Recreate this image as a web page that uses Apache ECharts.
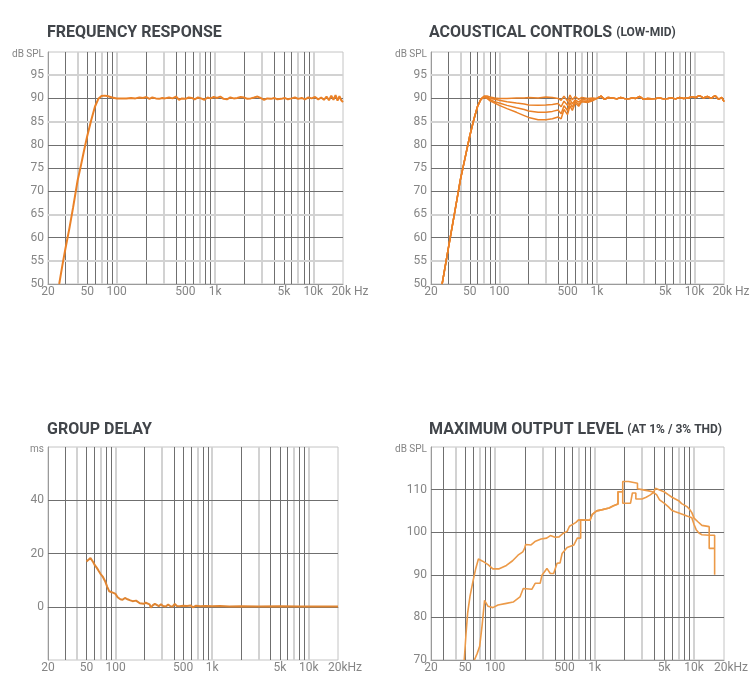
<!DOCTYPE html>
<html>
<head>
<meta charset="utf-8">
<script src="https://cdn.jsdelivr.net/npm/echarts@6/dist/echarts.min.js"></script>
<style>
  html, body { margin: 0; padding: 0; background: #fff; }
  #chart { width: 753px; height: 700px; }
</style>
</head>
<body>
<div id="chart"></div>
<script>
// grid lines (Hz) and which of them are drawn pale
const vGrid = [30, 40, 50, 60, 70, 80, 90, 100, 200, 300, 400, 500, 600, 700, 800, 900,
  1000, 2000, 3000, 4000, 5000, 6000, 7000, 8000, 9000, 10000]
const vLight = [40, 70, 100, 300, 700, 1000, 3000, 7000, 10000]
const xLabels = [20, 50, 100, 500, 1000, 5000, 10000, 20000]

// dB SPL grid for the two upper charts
const splGrid = [55, 60, 65, 70, 75, 80, 85, 90, 95]
const splLight = [55, 65, 85, 95]
const delayGrid = [0, 20, 40]
const molGrid = [80, 90, 100, 110]

// frequency response [Hz, dB]
const respCurve = [[26, 50], [28, 54], [30, 57.5], [33, 62], [36, 66.5], [40, 72.3], [43, 75.3], [46, 78.3],
  [50, 81.8], [55, 85.3], [60, 88.2], [65, 89.9], [70, 90.5], [75, 90.6], [80, 90.5], [90, 90.2], [100, 90],
  [110, 90], [125, 90], [140, 90.1], [155, 90], [170, 90.2], [185, 90.1], [200, 90.3], [215, 89.9], [230, 90.2],
  [250, 90], [270, 89.9], [290, 90.1], [310, 90], [340, 90.2], [370, 90], [400, 90.4], [430, 89.7], [460, 90],
  [500, 89.9], [540, 90.2], [580, 90.1], [620, 89.8], [670, 90.2], [720, 90], [780, 89.7], [840, 90.2], [900, 90],
  [970, 90.3], [1050, 90.1], [1130, 90.4], [1220, 89.9], [1320, 89.8], [1430, 90.2], [1550, 90], [1680, 90.1],
  [1820, 90.3], [1970, 90.2], [2130, 89.9], [2300, 90], [2500, 90.2], [2700, 90.4], [2900, 90.1], [3150, 89.7],
  [3400, 90], [3700, 89.9], [4000, 90.1], [4300, 89.8], [4700, 89.9], [5100, 90.1], [5500, 89.8], [6000, 90],
  [6500, 90.2], [7000, 89.9], [7600, 90.1], [8200, 89.8], [8900, 90.2], [9600, 90], [10400, 90.3], [11200, 89.8],
  [12000, 90.2], [12800, 89.7], [13600, 90.4], [14400, 89.6], [15200, 90.6], [16000, 89.7], [16800, 90.7],
  [17600, 89.5], [18400, 90.5], [19200, 89.6], [20000, 89.2]]

// acoustical controls: 4 settings share the low part frequencies and the top end
const ctrlFreq = [26, 30, 35, 40, 45, 50, 55, 60, 65, 70, 75, 80, 90, 100, 120, 150, 180, 200, 250, 300,
  350, 400, 430, 460, 500, 530, 560, 600, 650, 700, 800, 900]
const ctrlFlat = [50, 57.5, 65.5, 72.5, 77.5, 82, 85.5, 88.3, 89.9, 90.5, 90.5, 90.3, 90.1, 90, 90, 90.1, 90.1, 90.2, 90.1, 90.3,
  90.2, 90, 89.6, 90.5, 89.4, 90.7, 89.7, 90.4, 89.8, 90.2, 90, 90.1]
const ctrlCut1 = [50, 57.5, 65.5, 72.5, 77.5, 82, 85.5, 88.3, 89.9, 90.4, 90.3, 90, 89.8, 89.6, 89.3, 89, 88.8, 88.6, 88.5, 88.6,
  88.7, 88.9, 88.2, 89.4, 88.5, 89.8, 88.8, 89.7, 89.2, 89.8, 89.6, 89.9]
const ctrlCut2 = [50, 57.5, 65.5, 72.5, 77.5, 82, 85.5, 88.3, 89.8, 90.3, 90.1, 89.7, 89.3, 89, 88.5, 88, 87.6, 87.3, 87, 87,
  87.2, 87.5, 86.7, 88.4, 87.4, 89.1, 88.1, 89.4, 88.7, 89.5, 89.3, 89.7]
const ctrlCut3 = [50, 57.5, 65.5, 72.5, 77.5, 82, 85.5, 88.3, 89.8, 90.2, 90, 89.5, 89, 88.5, 87.8, 87, 86.3, 85.9, 85.4, 85.4,
  85.6, 86, 85.6, 87.6, 86.5, 88.4, 87.4, 89, 88.3, 89.3, 89.1, 89.5]
const ctrlTailFreq = [1000, 1100, 1200, 1300, 1450, 1600, 1750, 1900, 2100, 2300, 2500, 2750, 3000, 3300, 3600, 4000,
  4400, 4800, 5300, 5800, 6400, 7000, 7700, 8500, 9300, 10200, 11200, 12300, 13500, 14800, 16200, 17600, 19000, 20000]
const ctrlTailDb = [90, 90.5, 89.8, 90.2, 90.1, 89.9, 90.2, 90, 89.9, 90.1, 90, 90.4, 89.8, 90, 89.9, 90, 90.1, 89.9,
  90, 90.1, 89.9, 90.2, 90, 90.1, 90.3, 90.2, 90.6, 90.1, 90.4, 90, 90.6, 89.8, 90.2, 89.3]

// group delay [Hz, ms]
const delayCurve = [[50, 17], [52, 17.4], [55, 18.3], [57, 17.9], [59, 16.6], [61, 15.6], [64, 14.6], [67, 13.4],
  [70, 12.3], [74, 11.2], [78, 9.6], [82, 7.5], [86, 5.8], [90, 5.1], [95, 5.2], [100, 4.8], [105, 3.6], [112, 2.8],
  [118, 2.6], [125, 3.3], [133, 2.8], [142, 2.4], [150, 2.1], [157, 1.4], [163, 2.3], [170, 1.6], [178, 1.3],
  [186, 1.7], [195, 1.1], [205, 1.5], [215, 1.3], [225, 0.9], [232, -0.3], [242, 0.5], [255, 1.1], [265, 0.4],
  [280, 0.2], [295, 0.9], [310, 0.3], [330, 0.1], [350, 0.8], [370, 0.2], [390, 0.1], [410, 1.1], [430, 0.3],
  [460, 0.2], [500, 0.4], [550, 0.3], [600, 0.5], [630, -0.2], [680, 0.4], [750, 0.2], [850, 0.3], [1000, 0.2],
  [1200, 0.3], [1500, 0.1], [2000, 0.2], [3000, 0.1], [5000, 0.2], [8000, 0.1], [12000, 0.1], [20000, 0.1]]

// maximum output level [Hz, dB]
const molUpper = [[49, 70], [51, 76], [53, 81], [56, 85], [60, 88.5], [64, 91.5], [68, 93.7], [75, 93.2], [85, 92.4],
  [95, 91.4], [110, 91.4], [130, 92.2], [150, 93.3], [170, 94.6], [190, 95.4], [198, 96.2], [203, 97.1], [230, 97],
  [255, 97.9], [290, 98.4], [330, 98.6], [360, 99.2], [400, 98.8], [440, 98.9], [480, 99.7], [530, 100.2],
  [560, 101.4], [610, 101.9], [650, 102.3], [690, 102.9], [900, 102.8], [950, 104.2], [1050, 105], [1200, 105.3],
  [1400, 105.7], [1550, 106.2], [1720, 106.6], [1720, 109.5], [1920, 109.5], [1920, 111.9], [2200, 111.9],
  [2200, 111.5], [2700, 111.5], [2700, 110.2], [3000, 110], [3500, 109.7], [3800, 109.5], [4200, 108.8],
  [4500, 107.6], [5000, 106.8], [5500, 106], [6000, 105.1], [6500, 104.8], [7500, 104.3], [8500, 103.8],
  [9500, 103.4], [10000, 101.8], [10500, 100.6], [11200, 99.8], [12000, 99.4], [14200, 99.3], [14200, 96.2],
  [16100, 96.2]]
const molLower = [[62, 70], [66, 71.5], [70, 73.2], [74, 78], [78.4, 84], [85, 82.6], [95, 82.3], [107, 82.9],
  [130, 83.3], [152, 83.6], [178, 84.8], [192, 86.8], [234, 86.6], [253, 88], [284, 88], [296, 89.9], [332, 91.5],
  [359, 90.3], [388, 90.3], [420, 92.7], [450, 92.8], [472, 95], [530, 96.4], [620, 97], [671, 98.6], [725, 98.6],
  [725, 102.9], [900, 102.8], [950, 104.2], [1050, 105], [1200, 105.3], [1400, 105.7], [1550, 106.2], [1720, 106.6],
  [1720, 109.5], [1920, 109.5], [1920, 106.8], [2300, 106.8], [2400, 109.2], [2600, 109.2], [2600, 107.8],
  [3000, 107.8], [3300, 108.2], [3600, 108.7], [3900, 109.3], [4100, 110.3], [4500, 109.9], [5000, 109.5],
  [5500, 108.8], [6000, 108.2], [7000, 107.4], [7500, 106.7], [8500, 106], [9000, 105.4], [9500, 104.6],
  [10000, 103.3], [11000, 102.4], [12000, 101.6], [14200, 101.3], [14200, 99.3], [16100, 99.3], [16100, 90]]

const DARK = '#6f6f6f'
const LIGHT = '#d2d2d2'
const LABEL = '#858585'
const FONT = 'Roboto'

function zip(xs, ys) {
  return xs.map((x, i) => [x, ys[i]])
}

function gridLines(hVals, hLight) {
  const v = vGrid.map(f => {
    const pale = vLight.indexOf(f) >= 0
    return { xAxis: f, lineStyle: { color: pale ? LIGHT : DARK, width: pale ? 2 : 1, type: 'solid' } }
  })
  const h = hVals.map(d => {
    const pale = hLight.indexOf(d) >= 0
    return { yAxis: d, lineStyle: { color: pale ? LIGHT : DARK, width: pale ? 2 : 1, type: 'solid' } }
  })
  return {
    silent: true,
    symbol: ['none', 'none'],
    z: 1,
    animation: false,
    label: { show: false },
    emphasis: { disabled: true },
    lineStyle: { type: 'solid' },
    data: v.concat(h)
  }
}

function makeX(i, min, last) {
  const vals = xLabels.slice()
  vals[0] = min * 1.001
  vals[vals.length - 1] = 20000 * 0.999
  return {
    type: 'log', logBase: 10, gridIndex: i, min: min, max: 20000,
    axisLine: { show: true, lineStyle: { color: '#9a9a9a', width: 1 } },
    axisTick: { show: false },
    splitLine: { show: false },
    axisLabel: {
      customValues: vals,
      color: LABEL, fontSize: 12, fontFamily: FONT, margin: 2,
      formatter: v => {
        if (v < 25) return '20'
        if (v > 15000) return '{e|' + last + '}'
        v = Math.round(v)
        return v >= 1000 ? (v / 1000) + 'k' : String(v)
      },
      rich: { e: { color: LABEL, fontSize: 12, fontFamily: FONT, padding: [0, 0, 0, 14] } }
    }
  }
}

function makeY(i, min, max, interval, unit, hideMin) {
  return {
    type: 'value', gridIndex: i, min: min, max: max, interval: interval,
    axisLine: { show: true, lineStyle: { color: '#9a9a9a', width: 1 } },
    axisTick: { show: false },
    splitLine: { show: false },
    axisLabel: {
      color: LABEL, fontSize: 12, fontFamily: FONT, margin: 4,
      formatter: v => {
        if (v === max) return '{u|' + unit + '}'
        if (hideMin && v === min) return ''
        return String(v)
      },
      rich: { u: { color: LABEL, fontSize: 10, fontFamily: FONT, padding: [4, 0, 0, 0] } }
    }
  }
}

function curve(i, data, color, width, marks) {
  const s = {
    type: 'line', xAxisIndex: i, yAxisIndex: i, data: data,
    showSymbol: false, symbol: 'none', z: 3,
    lineStyle: { color: color, width: width },
    itemStyle: { color: color },
    animation: false
  }
  if (marks) s.markLine = marks
  return s
}

const titleStyle = { fontFamily: FONT, fontWeight: 'bold', fontSize: 16, color: '#41454a' }
const subStyle = { fontFamily: FONT, fontWeight: 'bold', fontSize: 12, color: '#41454a' }

const ORANGE = '#ea8127'
const PALE_ORANGE = '#ec9a48'

const option = {
  backgroundColor: '#fff',
  title: [
    { text: 'FREQUENCY RESPONSE', left: 47, top: 25, padding: 0, textStyle: titleStyle },
    { text: 'ACOUSTICAL CONTROLS {s|(LOW-MID)}', left: 429, top: 25, padding: 0,
      textStyle: Object.assign({ rich: { s: subStyle } }, titleStyle) },
    { text: 'GROUP DELAY', left: 47, top: 422, padding: 0, textStyle: titleStyle },
    { text: 'MAXIMUM OUTPUT LEVEL {s|(AT 1% / 3% THD)}', left: 429, top: 422, padding: 0,
      textStyle: Object.assign({ rich: { s: subStyle } }, titleStyle) }
  ],
  grid: [
    { left: 48, top: 52, width: 295, height: 232, show: true, borderColor: '#c4c4c4', borderWidth: 1 },
    { left: 431, top: 52, width: 293, height: 232, show: true, borderColor: '#c4c4c4', borderWidth: 1 },
    { left: 48, top: 447, width: 290, height: 213, show: true, borderColor: '#c4c4c4', borderWidth: 1 },
    { left: 431, top: 447, width: 293, height: 213, show: true, borderColor: '#c4c4c4', borderWidth: 1 }
  ],
  xAxis: [
    makeX(0, 20, '20k Hz'),
    makeX(1, 20, '20k Hz'),
    makeX(2, 20, '20kHz'),
    makeX(3, 22.7, '20kHz')
  ],
  yAxis: [
    makeY(0, 50, 100, 5, 'dB SPL', false),
    makeY(1, 50, 100, 5, 'dB SPL', false),
    makeY(2, -20, 60, 20, 'ms', true),
    makeY(3, 70, 120, 10, 'dB SPL', false)
  ],
  series: [
    curve(0, respCurve, ORANGE, 2, gridLines(splGrid, splLight)),
    curve(1, zip(ctrlFreq, ctrlFlat).concat(zip(ctrlTailFreq, ctrlTailDb)), ORANGE, 1.5, gridLines(splGrid, splLight)),
    curve(1, zip(ctrlFreq, ctrlCut1).concat(zip(ctrlTailFreq, ctrlTailDb)), ORANGE, 1.5),
    curve(1, zip(ctrlFreq, ctrlCut2).concat(zip(ctrlTailFreq, ctrlTailDb)), ORANGE, 1.5),
    curve(1, zip(ctrlFreq, ctrlCut3).concat(zip(ctrlTailFreq, ctrlTailDb)), ORANGE, 1.5),
    curve(2, delayCurve, '#df8532', 2, gridLines(delayGrid, [])),
    curve(3, molUpper, PALE_ORANGE, 1.6, gridLines(molGrid, [])),
    curve(3, molLower, PALE_ORANGE, 1.6)
  ]
}

const mychart = echarts.init(document.getElementById('chart'))
mychart.setOption(option)
</script>
</body>
</html>
